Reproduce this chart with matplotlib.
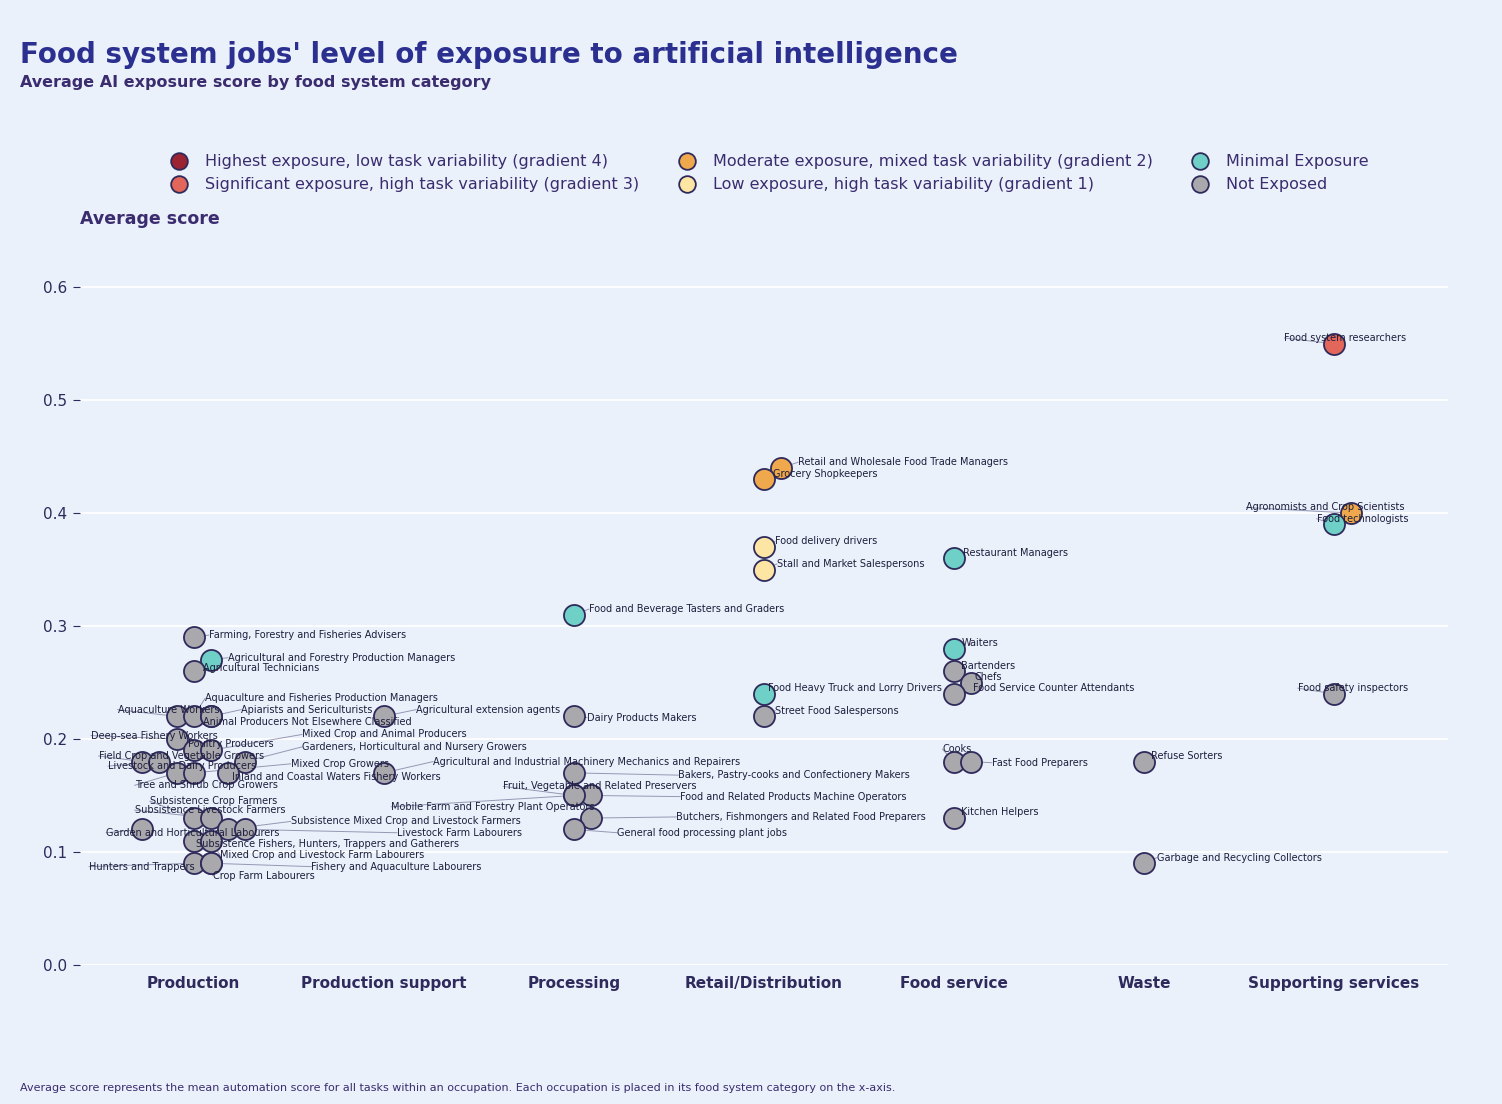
import matplotlib
matplotlib.use("Agg")
import matplotlib.pyplot as plt
from matplotlib.lines import Line2D

categories = ["Production", "Production support", "Processing", "Retail/Distribution",
              "Food service", "Waste", "Supporting services"]

# occupation, category index, jitter slot, score, gradient key, label x-offset (cat units), label y
occupations = [
    ("Farming, Forestry and Fisheries Advisers", 0, 0, 0.29, "none", 0.08, 0.292),
    ("Agricultural and Forestry Production Managers", 0, 1, 0.27, "min", 0.18, 0.272),
    ("Agricultural Technicians", 0, 0, 0.26, "none", 0.05, 0.263),
    ("Aquaculture Workers", 0, -1, 0.22, "none", -0.40, 0.226),
    ("Aquaculture and Fisheries Production Managers", 0, 0, 0.22, "none", 0.06, 0.236),
    ("Apiarists and Sericulturists", 0, 1, 0.22, "none", 0.25, 0.226),
    ("Animal Producers Not Elsewhere Classified", 0, 1, 0.22, "none", 0.05, 0.215),
    ("Agricultural extension agents", 1, 0, 0.22, "none", 0.17, 0.226),
    ("Deep-sea Fishery Workers", 0, -1, 0.20, "none", -0.54, 0.203),
    ("Poultry Producers", 0, 0, 0.19, "none", -0.03, 0.196),
    ("Mixed Crop and Animal Producers", 0, 1, 0.19, "none", 0.57, 0.204),
    ("Field Crop and Vegetable Growers", 0, -3, 0.18, "none", -0.50, 0.185),
    ("Livestock and Dairy Producers", 0, -2, 0.18, "none", -0.45, 0.176),
    ("Gardeners, Horticultural and Nursery Growers", 0, 3, 0.18, "none", 0.57, 0.193),
    ("Tree and Shrub Crop Growers", 0, -1, 0.17, "none", -0.31, 0.159),
    ("Inland and Coastal Waters Fishery Workers", 0, 2, 0.17, "none", 0.20, 0.166),
    ("Mixed Crop Growers", 0, 0, 0.17, "none", 0.51, 0.178),
    ("Agricultural and Industrial Machinery Mechanics and Repairers", 1, 0, 0.17, "none", 0.26, 0.180),
    ("Bakers, Pastry-cooks and Confectionery Makers", 2, 0, 0.17, "none", 0.55, 0.168),
    ("Fruit, Vegetable and Related Preservers", 2, 0, 0.15, "none", -0.37, 0.158),
    ("Food and Related Products Machine Operators", 2, 1, 0.15, "none", 0.56, 0.149),
    ("Mobile Farm and Forestry Plant Operators", 2, 0, 0.15, "none", -0.96, 0.140),
    ("Subsistence Crop Farmers", 0, 0, 0.13, "none", -0.23, 0.145),
    ("Subsistence Livestock Farmers", 0, 1, 0.13, "none", -0.31, 0.137),
    ("Butchers, Fishmongers and Related Food Preparers", 2, 1, 0.13, "none", 0.54, 0.131),
    ("Garden and Horticultural Labourers", 0, -3, 0.12, "none", -0.46, 0.117),
    ("Subsistence Mixed Crop and Livestock Farmers", 0, 2, 0.12, "none", 0.51, 0.127),
    ("Livestock Farm Labourers", 0, 3, 0.12, "none", 1.07, 0.117),
    ("General food processing plant jobs", 2, 0, 0.12, "none", 0.23, 0.117),
    ("Subsistence Fishers, Hunters, Trappers and Gatherers", 0, 0, 0.11, "none", 0.01, 0.107),
    ("Mixed Crop and Livestock Farm Labourers", 0, 1, 0.11, "none", 0.14, 0.097),
    ("Hunters and Trappers", 0, 0, 0.09, "none", -0.55, 0.087),
    ("Crop Farm Labourers", 0, 1, 0.09, "none", 0.10, 0.079),
    ("Fishery and Aquaculture Labourers", 0, 1, 0.09, "none", 0.62, 0.087),
    ("Food and Beverage Tasters and Graders", 2, 0, 0.31, "min", 0.08, 0.315),
    ("Dairy Products Makers", 2, 0, 0.22, "none", 0.07, 0.219),
    ("Retail and Wholesale Food Trade Managers", 3, 1, 0.44, "g2", 0.18, 0.445),
    ("Grocery Shopkeepers", 3, 0, 0.43, "g2", 0.05, 0.435),
    ("Food delivery drivers", 3, 0, 0.37, "g1", 0.06, 0.375),
    ("Stall and Market Salespersons", 3, 0, 0.35, "g1", 0.07, 0.355),
    ("Food Heavy Truck and Lorry Drivers", 3, 0, 0.24, "min", 0.02, 0.245),
    ("Street Food Salespersons", 3, 0, 0.22, "none", 0.06, 0.225),
    ("Restaurant Managers", 4, 0, 0.36, "min", 0.05, 0.365),
    ("Waiters", 4, 0, 0.28, "min", 0.04, 0.285),
    ("Bartenders", 4, 0, 0.26, "none", 0.04, 0.265),
    ("Chefs", 4, 1, 0.25, "none", 0.11, 0.255),
    ("Food Service Counter Attendants", 4, 0, 0.24, "none", 0.10, 0.245),
    ("Cooks", 4, 0, 0.18, "none", -0.06, 0.191),
    ("Fast Food Preparers", 4, 1, 0.18, "none", 0.20, 0.179),
    ("Kitchen Helpers", 4, 0, 0.13, "none", 0.04, 0.135),
    ("Refuse Sorters", 5, 0, 0.18, "none", 0.04, 0.185),
    ("Garbage and Recycling Collectors", 5, 0, 0.09, "none", 0.07, 0.095),
    ("Food system researchers", 6, 0, 0.55, "g3", -0.26, 0.555),
    ("Agronomists and Crop Scientists", 6, 1, 0.40, "g2", -0.46, 0.405),
    ("Food technologists", 6, 0, 0.39, "min", -0.09, 0.395),
    ("Food safety inspectors", 6, 0, 0.24, "none", -0.19, 0.245),
]

legend_keys = ["g4", "g3", "g2", "g1", "min", "none"]
legend_labels = ["Highest exposure, low task variability (gradient 4)",
                 "Significant exposure, high task variability (gradient 3)",
                 "Moderate exposure, mixed task variability (gradient 2)",
                 "Low exposure, high task variability (gradient 1)",
                 "Minimal Exposure", "Not Exposed"]
colors = {"g4": "#9B2332", "g3": "#E2665A", "g2": "#EFA84B", "g1": "#FDE6A4",
          "min": "#6ED0C6", "none": "#A9A8AD"}

BG = "#EAF1FB"
NAVY = "#2F2A5C"
TITLE = "#2B2F8F"
JIT = 0.09

fig = plt.figure(figsize=(15.02, 11.04), dpi=100, facecolor=BG)
ax = fig.add_axes([0.053, 0.126, 0.911, 0.665], facecolor=BG)

for name, c, j, s, g, lx, ly in occupations:
    x = c + j * JIT
    tx = c + lx
    ax.plot([x, tx], [s, ly], color=NAVY, lw=0.7, alpha=0.45, zorder=2)
    ax.scatter([x], [s], s=230, color=colors[g], edgecolor=NAVY, linewidth=1.3, zorder=3)
    ax.text(tx, ly, name, fontsize=7, color="#1e1e3c", ha="left", va="center", zorder=4)

ax.set_xlim(-0.6, 6.6)
ax.set_ylim(0, 0.65)
ax.set_yticks([0, 0.1, 0.2, 0.3, 0.4, 0.5, 0.6])
ax.set_yticklabels(["0.0", "0.1", "0.2", "0.3", "0.4", "0.5", "0.6"])
ax.set_xticks(range(len(categories)))
ax.set_xticklabels(categories, fontweight="bold", fontsize=11, color=NAVY)
ax.tick_params(axis="x", length=0, pad=8)
ax.tick_params(axis="y", length=5, color=NAVY, labelcolor=NAVY, labelsize=11, pad=4)
ax.grid(axis="y", color="white", lw=1.3)
ax.set_axisbelow(True)
for sp in ax.spines.values():
    sp.set_visible(False)

fig.text(0.013, 0.950, "Food system jobs' level of exposure to artificial intelligence",
         fontsize=20, fontweight="bold", color=TITLE, va="center")
fig.text(0.013, 0.925, "Average AI exposure score by food system category",
         fontsize=11.5, fontweight="bold", color="#3A2C6E", va="center")
fig.text(0.053, 0.802, "Average score", fontsize=12.5, fontweight="bold", color="#3A2C6E", va="center")
fig.text(0.013, 0.012, "Average score represents the mean automation score for all tasks within an occupation. "
         "Each occupation is placed in its food system category on the x-axis.",
         fontsize=8, color="#3A2C6E")

handles = [Line2D([], [], marker="o", ls="", markersize=12, markerfacecolor=colors[k],
                  markeredgecolor=NAVY, markeredgewidth=1.3) for k in legend_keys]
leg = fig.legend(handles, legend_labels, ncol=3, loc="center", bbox_to_anchor=(0.51, 0.843),
                 frameon=False, fontsize=11.5, labelcolor="#3A2C6E", handletextpad=0.6,
                 columnspacing=2.0, labelspacing=0.5)

fig.savefig("out.png", dpi=100, facecolor=BG)
